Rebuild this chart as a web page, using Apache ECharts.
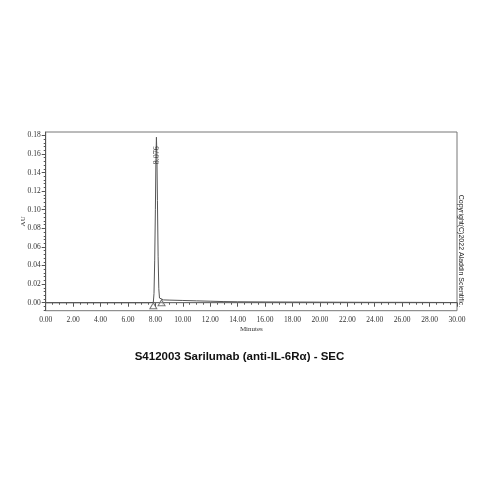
<!DOCTYPE html>
<html><head><meta charset="utf-8">
<script src="https://cdn.jsdelivr.net/npm/echarts@6/dist/echarts.min.js"></script>
<style>html,body{margin:0;padding:0;background:#fff}#c{width:479px;height:479px}</style>
</head><body><div id="c"></div>
<script>
// Chromatogram trace (minutes, AU)
const timeMin = [0, 2, 4, 6, 7, 7.5, 7.85, 7.9, 7.95, 8.0, 8.04, 8.076, 8.11, 8.15, 8.2, 8.25, 8.3, 8.4, 8.6, 9, 10, 11, 12, 13, 14, 16, 18, 20, 22, 24, 26, 28, 30];
const signalAU = [0, 0, 0, 0, 0, 0, 0.0003, 0.01, 0.045, 0.1, 0.155, 0.178, 0.16, 0.11, 0.05, 0.015, 0.005, 0.0032, 0.003, 0.0028, 0.0024, 0.002, 0.0016, 0.0012, 0.001, 0.0008, 0.0007, 0.0006, 0.0005, 0.0004, 0.0004, 0.0003, 0.0002];
const baselineT = [0, 30];
const baselineV = [0, 0];
const peakRT = [8.076];
const peakH = [0.178];
const peakLabels = ['8.076'];
const markerT = [7.85, 8.45];
const markerV = [0, 0.0031];
const yTicks = [0, 0.02, 0.04, 0.06, 0.08, 0.10, 0.12, 0.14, 0.16, 0.18];
const yMinor = [];
for (let i = -2; i <= 45; i++) yMinor.push(+(i * 0.004).toFixed(3));
const titleText = 'S412003 Sarilumab (anti-IL-6Rα) - SEC';
const copyrightText = 'Copyright(C)2022 Aladdin Scientific.';

const YMIN = -0.0086, YMAX = 0.1836;
const serif = 'Liberation Serif';
const chart = echarts.init(document.getElementById('c'), null, {renderer: 'canvas'});
const grid = {left: 45.7, right: 22, top: 132, bottom: 168.3, show: true, borderColor: '#777', borderWidth: 1, backgroundColor: 'transparent'};
chart.setOption({
  animation: false,
  backgroundColor: '#fff',
  title: {text: titleText, left: 'center', top: 346, textStyle: {fontFamily: 'Liberation Sans', fontWeight: 'bold', fontSize: 11.5, color: '#111'}},
  grid: grid,
  graphic: [{
    type: 'text', x: 461, y: 251, rotation: -Math.PI / 2,
    style: {text: copyrightText, fontFamily: 'Liberation Sans', fontSize: 7, fill: '#222', align: 'center', verticalAlign: 'middle'}
  }],
  xAxis: {
    type: 'value', min: 0, max: 30, interval: 2,
    name: 'Minutes', nameLocation: 'middle', nameGap: 15,
    nameTextStyle: {fontFamily: serif, fontSize: 7, color: '#333'},
    axisLine: {lineStyle: {color: '#555', width: 1}},
    axisTick: {show: true, length: 4, lineStyle: {color: '#555'}},
    minorTick: {show: true, splitNumber: 4, length: 2, lineStyle: {color: '#555'}},
    axisLabel: {fontFamily: serif, fontSize: 7.5, color: '#333', margin: 5, formatter: v => v.toFixed(2)},
    splitLine: {show: false}
  },
  yAxis: [{
    type: 'value', min: YMIN, max: YMAX,
    name: 'AU', nameLocation: 'middle', nameGap: 19, nameMoveOverlap: false,
    nameTextStyle: {fontFamily: serif, fontSize: 7, color: '#333'},
    axisLine: {show: true, lineStyle: {color: '#555', width: 1}},
    axisTick: {show: true, length: 4, customValues: yTicks, lineStyle: {color: '#555'}},
    axisLabel: {fontFamily: serif, fontSize: 7.5, color: '#333', margin: 5, customValues: yTicks, formatter: v => v.toFixed(2)},
    splitLine: {show: false}
  }, {
    type: 'value', min: YMIN, max: YMAX, position: 'left',
    axisLine: {show: false},
    axisTick: {show: true, length: 2, customValues: yMinor.filter(v => v >= YMIN && v <= YMAX), lineStyle: {color: '#555'}},
    axisLabel: {show: false},
    splitLine: {show: false}
  }],
  series: [{
    type: 'line', data: baselineT.map((t, i) => [t, baselineV[i]]),
    symbol: 'none', lineStyle: {color: '#777', width: 1}, silent: true
  }, {
    type: 'line', data: timeMin.map((t, i) => [t, signalAU[i]]),
    symbol: 'none', lineStyle: {color: '#555', width: 1}, silent: true
  }, {
    type: 'scatter', data: markerT.map((t, i) => [t, markerV[i]]),
    symbol: 'triangle', symbolSize: [7, 6], symbolOffset: [0, 3],
    itemStyle: {color: '#fff', borderColor: '#555', borderWidth: 1}, silent: true
  }, {
    type: 'scatter', data: peakRT.map((t, i) => ({value: [t, peakH[i]], label: {formatter: peakLabels[i]}})),
    symbol: 'circle', symbolSize: 0.1, itemStyle: {color: 'rgba(0,0,0,0)'},
    label: {show: true, position: 'inside', rotate: 90, offset: [-18, 0], fontFamily: serif, fontSize: 8, color: '#222'},
    silent: true, z: 5
  }]
});
</script></body></html>
